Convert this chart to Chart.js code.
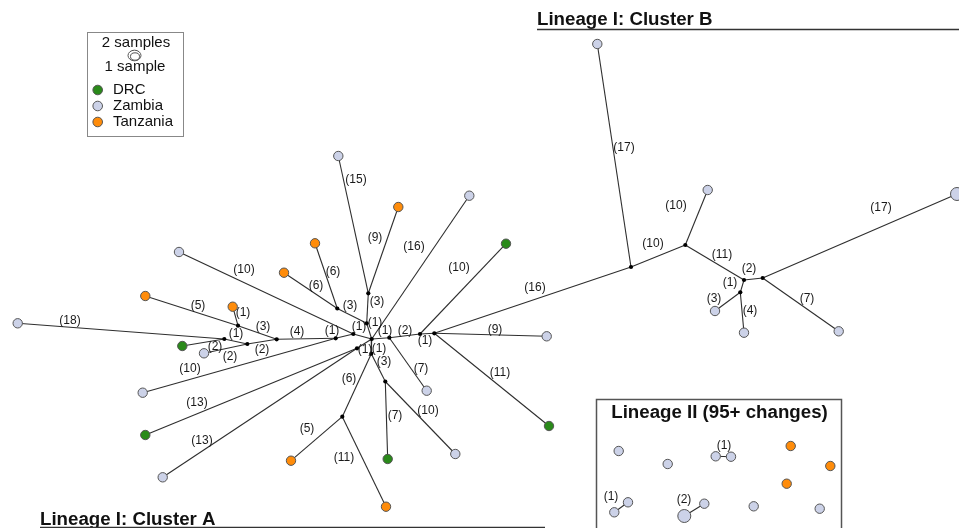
<!DOCTYPE html>
<html>
<head>
<meta charset="utf-8">
<script src="https://cdn.jsdelivr.net/npm/chart.js@4"></script>
<style>
  html, body { margin: 0; padding: 0; background: #fff; }
  #wrap { width: 959px; height: 528px; position: relative; }
</style>
</head>
<body>
<div id="wrap"><canvas id="rede"></canvas></div>
<script>
// haplotypes: id, layout position and country (J = median vector, Z2 = 2 samples)
const nodeIds = ['Z1','D1','Z2','T1','T2','Z3','Z4','T3','T4','Z5','T5','Z6','D2','Z7','Z8','D3','D4','Z9','T6','T7','D5','Z10',
  'Z11','Z12','Z13','Z14','Z15','Z16',
  'Z17','Z18','Z19','Z20','T8','T9','T10','Z21','Z22','Z23','Z24','Z25','Z26',
  'j1','j2','j3','j4','j5','j6','j7','j8','j9','j10','j11','j12','j13','j14','j15','j16','j17',
  'j18','j19','j20','j21','j22'];
const nodeX = [17.7,182.3,204,145.3,232.7,142.7,179,284,315,338.3,398.3,469.3,506,546.7,426.7,549,145.3,162.7,291,386,387.7,455.3,
  597.3,707.7,715,744,838.7,957,
  618.7,667.7,715.7,731,790.7,830.3,786.7,628,614.3,684.3,704.3,753.7,819.7,
  224.3,247.3,238,276.7,335.7,353.3,337.3,366.7,368.3,371.7,357,371.3,389.3,420,434.3,385.3,342.3,
  631,685.3,744,762.7,740.3];
const nodeY = [323.3,346,353.3,296,306.7,392.7,252,272.7,243.3,156,207,195.7,243.7,336.3,390.7,426,435,477.3,460.7,506.7,459,454,
  44,190,311,332.7,331.3,194,
  451,464,456.3,456.7,446,466,483.7,502.3,512.3,516,503.7,506.3,508.7,
  339,344,325.7,339.3,338.3,334,308.5,323.3,293.3,339,348.3,353.7,337.7,334,333.3,381.5,416.7,
  267,245,280,278,292.3];
const nodeKind = ['Z','D','Z','T','T','Z','Z','T','T','Z','T','Z','D','Z','Z','D','D','Z','T','T','D','Z',
  'Z','Z','Z','Z','Z','Z2',
  'Z','Z','Z','Z','T','T','T','Z','Z','Z2','Z','Z','Z',
  'J','J','J','J','J','J','J','J','J','J','J','J','J','J','J','J','J',
  'J','J','J','J','J'];

// links and number of mutational steps, with where the step count is written
const edgeFrom = ['Z1','D1','j1','Z2','j2','T1','T2','j3','j4','Z3','j5','Z4','j6','T3','T4','j7','Z5','T5','j9','j8','Z6',
  'j10','j13','j13','j14','j14','j15','j15','j15','j18','j18','j19','j19','j20','j20','j22','j22','j21','j21',
  'D4','Z9','j11','j10','j12','j17','j17','j12','j16','j16','Z19','Z22','Z23'];
const edgeTo = ['j1','j1','j2','j2','j4','j3','j3','j4','j5','j5','j6','j6','j10','j7','j7','j8','j9','j9','j8','j10','j10',
  'j13','Z8','j14','D2','j15','Z7','D3','j18','Z11','j19','Z12','j20','j21','j22','Z13','Z14','Z15','Z16',
  'j11','j11','j10','j12','j17','T6','T7','j16','D5','Z10','Z20','Z21','Z24'];
const edgeSteps = [18,2,1,2,2,5,1,3,4,10,1,10,1,6,6,3,15,9,3,1,16,
  1,7,2,10,1,9,11,16,17,10,10,11,2,1,3,4,7,17,
  13,13,1,1,6,5,11,3,7,10,1,1,2];
const stepLabelX = [70,215,236,230,262,198,243,263,297,190,332,244,359,316,333,350,356,375,377,375,414,
  385,421,405,459,425,495,500,535,624,653,676,722,749,730,714,750,807,881,
  197,202,365,379,349,307,344,384,395,428,724,611,684];
const stepLabelY = [321,347,334,357,350,306,313,327,332,369,331,270,327,286,272,306,180,238,302,323,247,
  331,369,331,268,341,330,373,288,148,244,206,255,269,283,299,311,299,208,
  403,441,350,349,379,429,458,362,416,411,446,497,500];

const countries = ['DRC', 'Zambia', 'Tanzania'];
const countryColors = ['#2a8a1a', '#ccd2e8', '#ff8c0a'];

const fonte = '"Liberation Sans", Arial, sans-serif';

function posOf(id) {
  const i = nodeIds.indexOf(id);
  return { x: nodeX[i], y: nodeY[i] };
}
function pointsOf(kind) {
  return nodeIds.filter((_, i) => nodeKind[i] === kind).map(posOf);
}

const datasetsArestas = edgeFrom.map((a, i) => ({
  data: [posOf(a), posOf(edgeTo[i])],
  showLine: true,
  borderColor: '#2e2e2e',
  borderWidth: 1.1,
  pointRadius: 0,
  order: 5
}));

const datasetsNos = [
  { data: pointsOf('J'), pointRadius: 2.1, backgroundColor: '#000', borderColor: '#000', borderWidth: 0, order: 2 },
  { data: pointsOf('D'), pointRadius: 4.7, backgroundColor: countryColors[0], borderColor: '#555', borderWidth: 1, order: 1 },
  { data: pointsOf('Z'), pointRadius: 4.7, backgroundColor: countryColors[1], borderColor: '#555', borderWidth: 1, order: 1 },
  { data: pointsOf('T'), pointRadius: 4.7, backgroundColor: countryColors[2], borderColor: '#555', borderWidth: 1, order: 1 },
  { data: pointsOf('Z2'), pointRadius: 6.5, backgroundColor: countryColors[1], borderColor: '#555', borderWidth: 1, order: 1 }
];

const textos = {
  id: 'textos',
  afterDatasetsDraw(chart) {
    const ctx = chart.ctx;
    const sx = chart.scales.x, sy = chart.scales.y;
    ctx.save();

    // step counts on the links
    ctx.fillStyle = '#1a1a1a';
    ctx.font = '12px ' + fonte;
    ctx.textAlign = 'center';
    ctx.textBaseline = 'middle';
    edgeSteps.forEach((n, i) => {
      ctx.fillText(`(${n})`, sx.getPixelForValue(stepLabelX[i]), sy.getPixelForValue(stepLabelY[i]));
    });

    // cluster headings with rule
    ctx.font = 'bold 18.7px ' + fonte;
    ctx.textAlign = 'left';
    ctx.textBaseline = 'alphabetic';
    ctx.fillStyle = '#111';
    ctx.fillText('Lineage I: Cluster B', 537, 25);
    ctx.fillText('Lineage I: Cluster A', 40, 525);
    ctx.strokeStyle = '#333';
    ctx.lineWidth = 1.5;
    ctx.beginPath();
    ctx.moveTo(537, 29.5); ctx.lineTo(959, 29.5);
    ctx.moveTo(40, 527.5); ctx.lineTo(545, 527.5);
    ctx.stroke();

    // lineage II box
    ctx.strokeStyle = '#555';
    ctx.lineWidth = 1.5;
    ctx.strokeRect(596.5, 399.5, 245, 140);
    ctx.textAlign = 'center';
    ctx.textBaseline = 'middle';
    ctx.fillText('Lineage II (95+ changes)', 719.5, 413);

    // legend
    ctx.strokeStyle = '#888';
    ctx.lineWidth = 1;
    ctx.strokeRect(87.5, 32.5, 96, 104);
    ctx.font = '15px ' + fonte;
    ctx.fillText('2 samples', 136, 42.5);
    ctx.fillText('1 sample', 135, 67);
    ctx.strokeStyle = '#555';
    ctx.fillStyle = '#fff';
    ctx.beginPath(); ctx.ellipse(134.5, 55.5, 6.5, 5.3, 0, 0, Math.PI * 2); ctx.fill(); ctx.stroke();
    ctx.beginPath(); ctx.ellipse(135, 56.5, 4.5, 3.7, 0, 0, Math.PI * 2); ctx.fill(); ctx.stroke();
    ctx.textAlign = 'left';
    countries.forEach((c, i) => {
      const cy = 90 + i * 16;
      ctx.beginPath();
      ctx.arc(97.7, cy, 4.8, 0, Math.PI * 2);
      ctx.fillStyle = countryColors[i];
      ctx.fill();
      ctx.stroke();
      ctx.fillStyle = '#111';
      ctx.fillText(c, 113, cy - 0.5);
    });
    ctx.restore();
  }
};

new Chart(document.getElementById('rede'), {
  type: 'scatter',
  data: { datasets: [...datasetsNos, ...datasetsArestas] },
  options: {
    responsive: true,
    maintainAspectRatio: false,
    animation: false,
    layout: { padding: 0, autoPadding: false },
    plugins: { legend: { display: false }, tooltip: { enabled: false } },
    scales: {
      x: { type: 'linear', min: 0, max: 959, display: false },
      y: { type: 'linear', min: 0, max: 528, reverse: true, display: false }
    }
  },
  plugins: [textos]
});
</script>
</body>
</html>
